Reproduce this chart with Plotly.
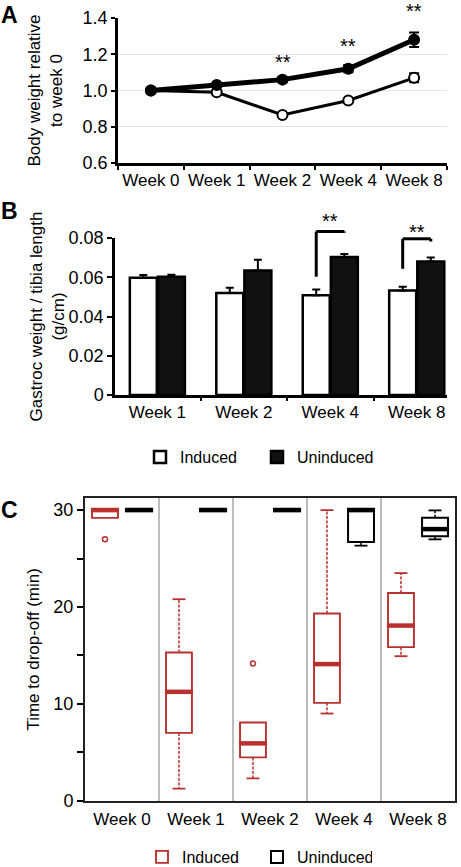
import plotly.graph_objects as go

W, H = 461, 867
FONT = "Liberation Sans, Arial, Helvetica, sans-serif"
RED = "#b8312f"

# ---------------- Panel A: body weight relative to week 0 ----------------
weeks_a = ["Week 0", "Week 1", "Week 2", "Week 4", "Week 8"]
bw_induced = [1.00, 0.99, 0.865, 0.945, 1.07]
bw_induced_err = [0.008, 0.01, 0.01, 0.01, 0.025]
bw_uninduced = [1.00, 1.03, 1.06, 1.12, 1.28]
bw_uninduced_err = [0.008, 0.01, 0.015, 0.02, 0.04]
bw_sig_weeks = ["Week 2", "Week 4", "Week 8"]
bw_sig_y = [1.18, 1.27, 1.46]
a_yticks = [0.6, 0.8, 1.0, 1.2, 1.4]

# ---------------- Panel B: gastroc weight / tibia length ----------------
weeks_b = ["Week 1", "Week 2", "Week 4", "Week 8"]
gw_induced = [0.0597, 0.0520, 0.0508, 0.0533]
gw_induced_err = [0.0014, 0.0026, 0.0030, 0.0019]
gw_uninduced = [0.0603, 0.0634, 0.0703, 0.0680]
gw_uninduced_err = [0.0010, 0.0055, 0.0016, 0.0021]
gw_sig_weeks = ["Week 4", "Week 8"]
gw_sig_left = [0.0603, 0.0643]
gw_sig_top = [0.0833, 0.0796]
gw_sig_right = [0.0827, 0.0782]
gw_sig_star = [0.0908, 0.0852]
b_yticks = [0, 0.02, 0.04, 0.06, 0.08]
b_yticktext = ["0", "0.02", "0.04", "0.06", "0.08"]

# ---------------- Panel C: time to drop-off ----------------
weeks_c = ["Week 0", "Week 1", "Week 2", "Week 4", "Week 8"]
ind_q1 = [29.2, 7.0, 4.47, 10.1, 15.85]
ind_med = [30.0, 11.24, 5.92, 14.1, 18.08]
ind_q3 = [30.0, 15.3, 8.08, 19.32, 21.44]
ind_lo = [29.2, 1.24, 2.3, 9.0, 14.92]
ind_hi = [30.0, 20.8, 8.08, 30.0, 23.5]
ind_out_week = ["Week 0", "Week 2"]
ind_out = [27.0, 14.16]
un_q1 = [30.0, 30.0, 30.0, 26.7, 27.29]
un_med = [30.0, 30.0, 30.0, 30.0, 28.04]
un_q3 = [30.0, 30.0, 30.0, 30.0, 29.2]
un_lo = [30.0, 30.0, 30.0, 26.33, 26.98]
un_hi = [30.0, 30.0, 30.0, 30.0, 29.97]
c_yticks = [0, 5, 10, 15, 20, 25, 30]
c_yticktext = ["0", "", "10", "", "20", "", "30"]


def xd(a, b):
    return [a / W, b / W]


def yd(top, bottom):
    return [1 - bottom / H, 1 - top / H]


DOM_A = (xd(118, 447), yd(18, 163))
DOM_B = (xd(115, 447), yd(238, 395))
DOM_C = (xd(85, 455), yd(498, 800.7))
RNG_A = [0.6, 1.4]
RNG_B = [0, 0.08]
RNG_C = [0, 31.25]
BARGAP = 0.35
BOX_OFF = 0.23
BOX_W = 0.35


def to_paper(v, rng, dom):
    return dom[0] + (v - rng[0]) / (rng[1] - rng[0]) * (dom[1] - dom[0])


fig = go.Figure()

# ---- Panel A traces
fig.add_trace(go.Scatter(
    x=weeks_a, y=bw_induced, mode="lines+markers",
    error_y=dict(type="data", array=bw_induced_err, color="black", thickness=2, width=5),
    line=dict(color="black", width=3),
    marker=dict(symbol="circle", size=10, color="white", line=dict(color="black", width=2)),
    xaxis="x", yaxis="y", showlegend=False, cliponaxis=False, name="Induced"))
fig.add_trace(go.Scatter(
    x=weeks_a, y=bw_uninduced, mode="lines+markers",
    error_y=dict(type="data", array=bw_uninduced_err, color="black", thickness=2, width=5),
    line=dict(color="black", width=5),
    marker=dict(symbol="circle", size=12, color="black"),
    xaxis="x", yaxis="y", showlegend=False, cliponaxis=False, name="Uninduced"))

# ---- Panel B traces
fig.add_trace(go.Bar(
    x=weeks_b, y=gw_induced, name="Induced",
    marker=dict(color="white", line=dict(color="black", width=2.5)),
    error_y=dict(type="data", symmetric=False, array=gw_induced_err,
                 arrayminus=[0] * len(gw_induced), color="black", thickness=2, width=4),
    xaxis="x2", yaxis="y2", legend="legend"))
fig.add_trace(go.Bar(
    x=weeks_b, y=gw_uninduced, name="Uninduced",
    marker=dict(color="#111111", line=dict(color="black", width=2.5)),
    error_y=dict(type="data", symmetric=False, array=gw_uninduced_err,
                 arrayminus=[0] * len(gw_uninduced), color="black", thickness=2, width=4),
    xaxis="x2", yaxis="y2", legend="legend"))

# ---- Panel C traces
pos_ind = [i - BOX_OFF for i in range(len(weeks_c))]
pos_un = [i + BOX_OFF for i in range(len(weeks_c))]


def whisker_paths(pos, q1, q3, lo, hi, cap):
    wx, wy, cx, cy = [], [], [], []
    for p, a, b, l, h in zip(pos, q1, q3, lo, hi):
        if h > b:
            wx += [p, p, None]
            wy += [b, h, None]
            cx += [p - cap, p + cap, None]
            cy += [h, h, None]
        if l < a:
            wx += [p, p, None]
            wy += [a, l, None]
            cx += [p - cap, p + cap, None]
            cy += [l, l, None]
    return wx, wy, cx, cy


def median_path(pos, med, half):
    mx, my = [], []
    for p, m in zip(pos, med):
        mx += [p - half, p + half, None]
        my += [m, m, None]
    return mx, my


for pos, q1, med, q3, lo, hi, col, nm, lw in [
    (pos_ind, ind_q1, ind_med, ind_q3, ind_lo, ind_hi, RED, "Induced", 1.9),
    (pos_un, un_q1, un_med, un_q3, un_lo, un_hi, "black", "Uninduced", 2),
]:
    fig.add_trace(go.Box(
        x=pos, q1=q1, median=med, q3=q3, lowerfence=q1, upperfence=q3,
        width=BOX_W, fillcolor="white", line=dict(color=col, width=lw),
        boxpoints=False, name=nm, xaxis="x3", yaxis="y3", legend="legend2"))
    wx, wy, cx, cy = whisker_paths(pos, q1, q3, lo, hi, BOX_W / 4)
    fig.add_trace(go.Scatter(x=wx, y=wy, mode="lines", line=dict(color=col, width=1.5, dash="3px,1.5px"),
                             xaxis="x3", yaxis="y3", showlegend=False, hoverinfo="skip"))
    fig.add_trace(go.Scatter(x=cx, y=cy, mode="lines", line=dict(color=col, width=1.8),
                             xaxis="x3", yaxis="y3", showlegend=False, hoverinfo="skip"))
    mx, my = median_path(pos, med, BOX_W / 2 + 0.015)
    fig.add_trace(go.Scatter(x=mx, y=my, mode="lines", line=dict(color=col, width=4.5),
                             xaxis="x3", yaxis="y3", showlegend=False, hoverinfo="skip"))

fig.add_trace(go.Scatter(
    x=[weeks_c.index(w) - BOX_OFF for w in ind_out_week], y=ind_out, mode="markers",
    marker=dict(symbol="circle-open", size=5, color=RED, line=dict(width=1.5)),
    xaxis="x3", yaxis="y3", showlegend=False))

# ---- annotations & shapes
ann = []
shapes = []
for w, v in zip(bw_sig_weeks, bw_sig_y):
    ann.append(dict(x=w, xref="x", y=to_paper(v, RNG_A, DOM_A[1]), yref="paper",
                    text="**", showarrow=False, font=dict(size=20, family=FONT, color="black"),
                    yanchor="middle", yshift=-4))

off = (1 - BARGAP) / 4
for w, yl, yt, yr, ys in zip(gw_sig_weeks, gw_sig_left, gw_sig_top, gw_sig_right, gw_sig_star):
    i = weeks_b.index(w)
    l, r = i - off, i + off
    pl = to_paper(yl, RNG_B, DOM_B[1])
    pt = to_paper(yt, RNG_B, DOM_B[1])
    pr = to_paper(yr, RNG_B, DOM_B[1])
    for x0, y0, x1, y1 in [(l, pl, l, pt), (l, pt, r, pt), (r, pt, r, pr)]:
        shapes.append(dict(type="line", xref="x2", yref="paper", x0=x0, x1=x1, y0=y0, y1=y1,
                           line=dict(color="black", width=3)))
    ann.append(dict(x=w, xref="x2", y=to_paper(ys, RNG_B, DOM_B[1]), yref="paper",
                    text="**", showarrow=False, font=dict(size=20, family=FONT, color="black"),
                    yanchor="middle", yshift=-4))

for lab, px, py in [("A", 9, 0), ("B", 9, 196), ("C", 9, 495)]:
    ann.append(dict(x=px / W, y=1 - py / H, xref="paper", yref="paper", text="<b>%s</b>" % lab,
                    showarrow=False, font=dict(size=23, family=FONT, color="black"),
                    xanchor="center", yanchor="top"))

axis_common = dict(showline=True, linecolor="black", showgrid=False, zeroline=False,
                   fixedrange=True, tickcolor="black", automargin=False)

fig.update_layout(
    width=W, height=H, margin=dict(l=0, r=0, t=0, b=0, autoexpand=False),
    paper_bgcolor="white", plot_bgcolor="white",
    font=dict(family=FONT, color="black", size=17),
    barmode="group", bargap=BARGAP, bargroupgap=0.04,
    boxmode="overlay",
    xaxis=dict(axis_common, domain=DOM_A[0], anchor="y", type="category", range=[-0.5, 4.5],
               linewidth=2.5, ticks="outside", ticklen=4, tickwidth=2, tickson="boundaries",
               tickangle=0, tickfont=dict(size=17)),
    yaxis=dict(axis_common, domain=DOM_A[1], anchor="x", range=RNG_A, tickvals=a_yticks,
               tickformat=".1f", linewidth=2.5, ticks="outside", ticklen=4, tickwidth=2,
               tickfont=dict(size=18),
               minor=dict(tickvals=[0.8, 1.0, 1.2], showgrid=True, gridcolor="#e4e4e4",
                          gridwidth=1, ticks=""),
               title=dict(text="Body weight relative<br>to week 0", standoff=16,
                          font=dict(size=17))),
    xaxis2=dict(axis_common, domain=DOM_B[0], anchor="y2", type="category", range=[-0.49, 3.35],
                linewidth=2.5, ticks="outside", ticklen=3, tickwidth=2, tickson="boundaries",
                tickangle=0, tickfont=dict(size=17)),
    yaxis2=dict(axis_common, domain=DOM_B[1], anchor="x2", range=RNG_B, tickvals=b_yticks,
                ticktext=b_yticktext, linewidth=2.5, ticks="outside", ticklen=5, tickwidth=2,
                tickfont=dict(size=18),
                title=dict(text="Gastroc weight / tibia length<br>(g/cm)", standoff=0,
                           font=dict(size=17))),
    xaxis3=dict(axis_common, domain=DOM_C[0], anchor="y3", range=[-0.5, 4.5],
                tickvals=list(range(len(weeks_c))), ticktext=weeks_c, ticks="",
                linecolor="#222222", linewidth=2, mirror=True, tickfont=dict(size=17),
                tickangle=0, ticklabelstandoff=2,
                minor=dict(tickvals=[0.5, 1.5, 2.5, 3.5], showgrid=True, gridcolor="#bdbdbd",
                           gridwidth=1.5, ticks="")),
    yaxis3=dict(axis_common, domain=DOM_C[1], anchor="x3", range=RNG_C, tickvals=c_yticks,
                ticktext=c_yticktext, linecolor="#222222", linewidth=2, mirror=True,
                ticks="outside", ticklen=6, tickwidth=1.5, tickfont=dict(size=18),
                title=dict(text="Time to drop-off (min)", standoff=9, font=dict(size=17))),
    legend=dict(orientation="h", x=140 / W, y=1 - 457 / H, xanchor="left", yanchor="middle",
                font=dict(size=16, family=FONT), bgcolor="rgba(0,0,0,0)",
                entrywidth=72, entrywidthmode="pixels", itemclick=False, itemdoubleclick=False),
    legend2=dict(orientation="h", x=142 / W, y=1 - 857 / H, xanchor="left", yanchor="middle",
                 font=dict(size=16, family=FONT), bgcolor="rgba(0,0,0,0)",
                 entrywidth=70, entrywidthmode="pixels", itemclick=False, itemdoubleclick=False),
    annotations=ann, shapes=shapes,
)

fig.write_html("out.html", config={"displayModeBar": False},
               post_script="document.body.style.margin='0';")
